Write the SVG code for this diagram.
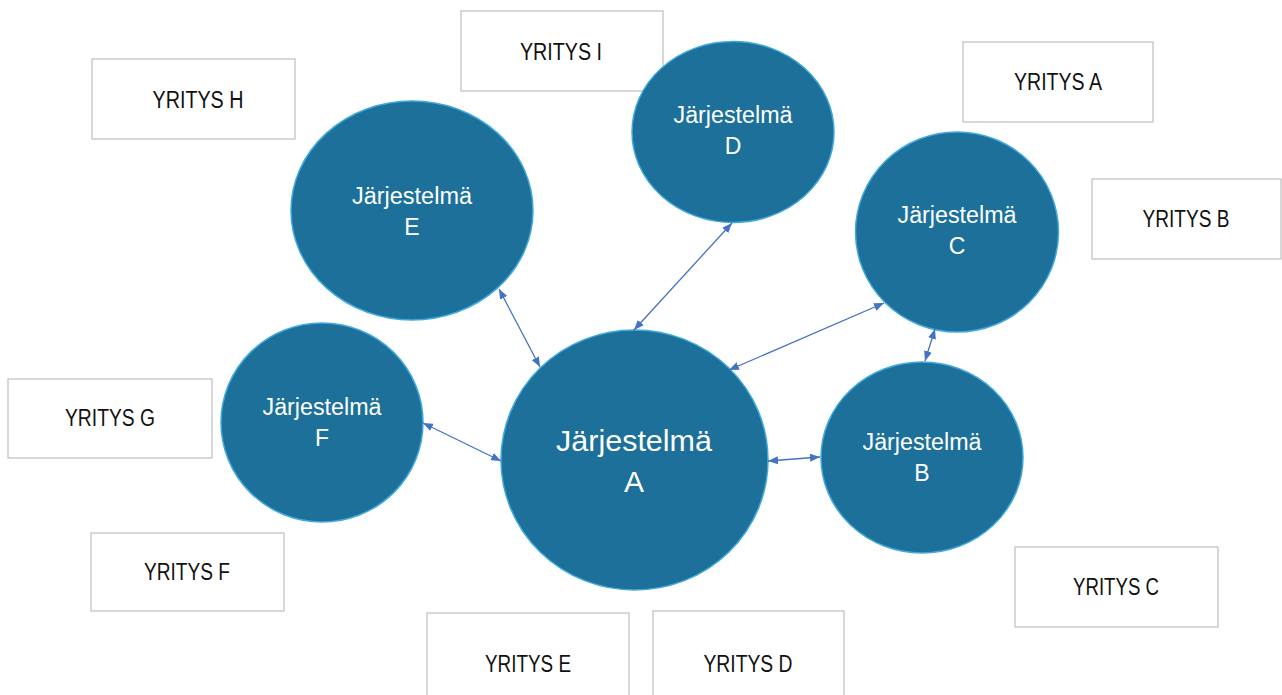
<svg xmlns="http://www.w3.org/2000/svg" width="1282" height="695" viewBox="0 0 1282 695">
<style>
.sys{fill:#1C7099;stroke:#3FA9DE;stroke-width:1.5}
.st{fill:#FFFFFF;font-family:"Liberation Sans",Arial,sans-serif;font-size:23px;text-anchor:middle}
.stA{fill:#FFFFFF;font-family:"Liberation Sans",Arial,sans-serif;font-size:30px;text-anchor:middle}
.box{fill:#FFFFFF;stroke:#BFBFBF;stroke-width:1.2}
.bt{fill:#111111;font-family:"Liberation Sans",Arial,sans-serif;font-size:23px;text-anchor:middle}
.con{stroke:#4472C4;stroke-width:1.3;fill:none;marker-start:url(#ah);marker-end:url(#ah)}
</style>
<defs>
<marker id="ah" markerUnits="userSpaceOnUse" markerWidth="10" markerHeight="8" refX="10" refY="4" orient="auto-start-reverse">
<path d="M0,0 L10,4 L0,8 z" fill="#4472C4"/>
</marker>
</defs>
<rect width="1282" height="695" fill="#FFFFFF"/>
<g id="yritys-i"><rect class="box" x="461" y="11" width="202" height="80"/><text class="bt" x="561" y="60" textLength="82" lengthAdjust="spacingAndGlyphs">YRITYS I</text></g>
<g id="yritys-h"><rect class="box" x="92" y="59" width="203" height="80"/><text class="bt" x="198" y="108" textLength="91" lengthAdjust="spacingAndGlyphs">YRITYS H</text></g>
<g id="yritys-a"><rect class="box" x="963" y="42" width="190" height="80"/><text class="bt" x="1058" y="90" textLength="88" lengthAdjust="spacingAndGlyphs">YRITYS A</text></g>
<g id="yritys-b"><rect class="box" x="1092" y="179" width="189" height="80"/><text class="bt" x="1186" y="227" textLength="87" lengthAdjust="spacingAndGlyphs">YRITYS B</text></g>
<g id="yritys-g"><rect class="box" x="8" y="379" width="204" height="79"/><text class="bt" x="110" y="426" textLength="90" lengthAdjust="spacingAndGlyphs">YRITYS G</text></g>
<g id="yritys-f"><rect class="box" x="91" y="533" width="193" height="78"/><text class="bt" x="187" y="580" textLength="86" lengthAdjust="spacingAndGlyphs">YRITYS F</text></g>
<g id="yritys-c"><rect class="box" x="1015" y="547" width="203" height="80"/><text class="bt" x="1116" y="595" textLength="86" lengthAdjust="spacingAndGlyphs">YRITYS C</text></g>
<g id="yritys-e"><rect class="box" x="427" y="613" width="202" height="90"/><text class="bt" x="528" y="672" textLength="86" lengthAdjust="spacingAndGlyphs">YRITYS E</text></g>
<g id="yritys-d"><rect class="box" x="653" y="611" width="191" height="92"/><text class="bt" x="748" y="672" textLength="89" lengthAdjust="spacingAndGlyphs">YRITYS D</text></g>
<g id="jarjestelma-e"><ellipse class="sys" cx="412" cy="210.5" rx="121" ry="109.5"/><text class="st" x="412" y="204" textLength="120" lengthAdjust="spacingAndGlyphs">Järjestelmä</text><text class="st" x="412" y="235">E</text></g>
<g id="jarjestelma-d"><ellipse class="sys" cx="733" cy="132" rx="101" ry="90.5"/><text class="st" x="733" y="123" textLength="119" lengthAdjust="spacingAndGlyphs">Järjestelmä</text><text class="st" x="733" y="154">D</text></g>
<g id="jarjestelma-c"><ellipse class="sys" cx="957" cy="232" rx="101.5" ry="100"/><text class="st" x="957" y="223" textLength="119" lengthAdjust="spacingAndGlyphs">Järjestelmä</text><text class="st" x="957" y="254">C</text></g>
<g id="jarjestelma-f"><ellipse class="sys" cx="322" cy="422.5" rx="101" ry="99.5"/><text class="st" x="322" y="415" textLength="119" lengthAdjust="spacingAndGlyphs">Järjestelmä</text><text class="st" x="322" y="446">F</text></g>
<g id="jarjestelma-b"><ellipse class="sys" cx="922" cy="457.5" rx="101" ry="95.5"/><text class="st" x="922" y="450" textLength="119" lengthAdjust="spacingAndGlyphs">Järjestelmä</text><text class="st" x="922" y="481">B</text></g>
<g id="jarjestelma-a"><ellipse class="sys" cx="634.5" cy="460" rx="133.5" ry="130"/><text class="stA" x="634" y="451" textLength="156" lengthAdjust="spacingAndGlyphs">Järjestelmä</text><text class="stA" x="634" y="492">A</text></g>
<g id="connectors">
<line class="con" x1="499" y1="289" x2="540" y2="367"/>
<line class="con" x1="732" y1="223" x2="634" y2="330"/>
<line class="con" x1="884" y1="303" x2="729" y2="370"/>
<line class="con" x1="935" y1="329" x2="925" y2="361"/>
<line class="con" x1="423" y1="423" x2="501" y2="461"/>
<line class="con" x1="768" y1="461" x2="820" y2="457"/>
</g>
</svg>
